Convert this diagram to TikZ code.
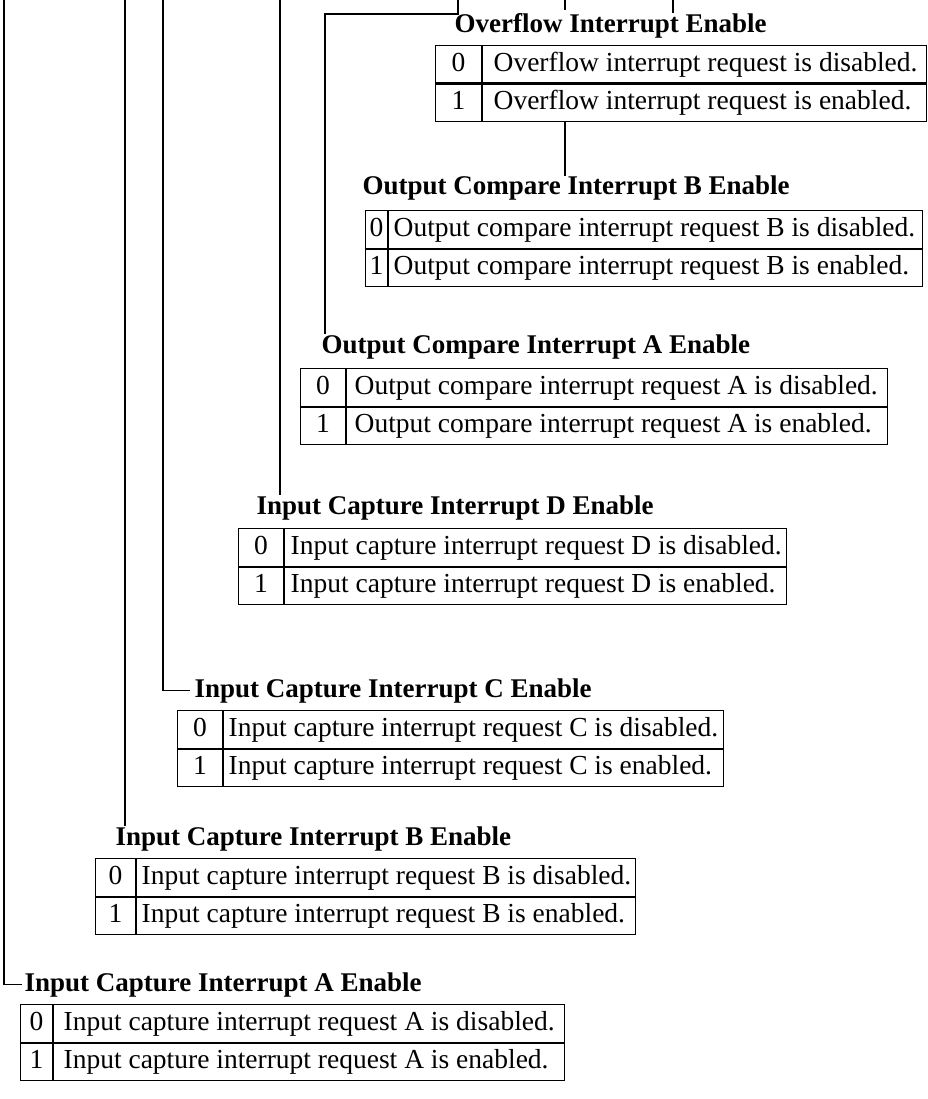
\documentclass[tikz,border=0pt]{standalone}
\usepackage{fontspec}
\setmainfont{Liberation Serif}
\usetikzlibrary{positioning}

\begin{document}
\begin{tikzpicture}[
  x=1pt, y=-1pt,
  font=\fontsize{27.5}{33}\selectfont,
  line width=1.1pt,
  node distance=0pt,
  heading/.style={anchor=base west, inner sep=0pt, font=\fontsize{27}{33}\selectfont\bfseries},
  bitcell/.style={draw, anchor=north west, inner ysep=0pt, inner xsep=0pt, minimum height=37.5pt, text height=20pt, text depth=6pt},
  txtcell/.style={bitcell, align=left, inner xsep=6pt,
    execute at begin node={\spaceskip=0pt\xspaceskip=0pt\hbox\bgroup}, execute at end node=\egroup}
]
\useasboundingbox (0,0) rectangle (927,1099);

% bit lines coming down from the register above
\coordinate (ica-top)  at (4,0);
\coordinate (icb-top)  at (125,0);
\coordinate (icc-top)  at (163,0);
\coordinate (icd-top)  at (280,0);
\coordinate (oca-top)  at (458,0);
\coordinate (oca-bend) at (325,14);
\coordinate (ocb-top)  at (565,0);
\coordinate (ocb-stub) at (565,10);
\coordinate (ovf-top)  at (673,0);

% Overflow
\node (ovf-title) [heading] at (454,33) {Overflow Interrupt Enable};
\node (ovf-n0) [bitcell, minimum width=46pt] at (435,45) {0};
\node (ovf-t0) [txtcell, inner xsep=11pt, text width=422pt, right=of ovf-n0] {Overflow interrupt request is disabled.};
\node (ovf-n1) [bitcell, minimum width=46pt, below=of ovf-n0] {1};
\node (ovf-t1) [txtcell, inner xsep=11pt, text width=422pt, right=of ovf-n1] {Overflow interrupt request is enabled.};

% Output compare B
\node (ocb-title) [heading] at (362,195) {Output Compare Interrupt B Enable};
\node (ocb-n0) [bitcell, minimum width=22pt] at (365,210) {0};
\node (ocb-t0) [txtcell, inner xsep=5pt, text width=524pt, right=of ocb-n0] {Output compare interrupt request B is disabled.};
\node (ocb-n1) [bitcell, minimum width=22pt, below=of ocb-n0] {1};
\node (ocb-t1) [txtcell, inner xsep=5pt, text width=524pt, right=of ocb-n1] {Output compare interrupt request B is enabled.};

% Output compare A
\node (oca-title) [heading] at (321,353) {Output Compare Interrupt A Enable};
\node (oca-n0) [bitcell, minimum width=45pt] at (300,368) {0};
\node (oca-t0) [txtcell, inner xsep=8pt, text width=525pt, right=of oca-n0] {Output compare interrupt request A is disabled.};
\node (oca-n1) [bitcell, minimum width=45pt, below=of oca-n0] {1};
\node (oca-t1) [txtcell, inner xsep=8pt, text width=525pt, right=of oca-n1] {Output compare interrupt request A is enabled.};

% Input capture D
\node (icd-title) [heading] at (256,514) {Input Capture Interrupt D Enable};
\node (icd-n0) [bitcell, minimum width=45pt] at (238,528) {0};
\node (icd-t0) [txtcell, text width=490pt, right=of icd-n0] {Input capture interrupt request D is disabled.};
\node (icd-n1) [bitcell, minimum width=45pt, below=of icd-n0] {1};
\node (icd-t1) [txtcell, text width=490pt, right=of icd-n1] {Input capture interrupt request D is enabled.};

% Input capture C
\node (icc-title) [heading] at (194,697) {Input Capture Interrupt C Enable};
\node (icc-n0) [bitcell, minimum width=45pt] at (177,710) {0};
\node (icc-t0) [txtcell, inner xsep=5pt, text width=490pt, right=of icc-n0] {Input capture interrupt request C is disabled.};
\node (icc-n1) [bitcell, minimum width=45pt, below=of icc-n0] {1};
\node (icc-t1) [txtcell, inner xsep=5pt, text width=490pt, right=of icc-n1] {Input capture interrupt request C is enabled.};

% Input capture B
\node (icb-title) [heading] at (115,845) {Input Capture Interrupt B Enable};
\node (icb-n0) [bitcell, minimum width=40pt] at (95,858) {0};
\node (icb-t0) [txtcell, inner xsep=5pt, text width=489pt, right=of icb-n0] {Input capture interrupt request B is disabled.};
\node (icb-n1) [bitcell, minimum width=40pt, below=of icb-n0] {1};
\node (icb-t1) [txtcell, inner xsep=5pt, text width=489pt, right=of icb-n1] {Input capture interrupt request B is enabled.};

% Input capture A
\node (ica-title) [heading] at (24,991) {Input Capture Interrupt A Enable};
\node (ica-n0) [bitcell, minimum width=32pt] at (20,1004) {0};
\node (ica-t0) [txtcell, inner xsep=10pt, text width=491pt, right=of ica-n0] {Input capture interrupt request A is disabled.};
\node (ica-n1) [bitcell, minimum width=32pt, below=of ica-n0] {1};
\node (ica-t1) [txtcell, inner xsep=10pt, text width=491pt, right=of ica-n1] {Input capture interrupt request A is enabled.};

% connectors
\draw (ica-top) |- ([xshift=-2pt]ica-title.west);
\draw (icb-top) -- (icb-top |- icb-title.north);
\draw (icc-top) |- ([xshift=-4pt]icc-title.west);
\draw (icd-top) -- (icd-top |- icd-title.north);
\draw (oca-top) |- (oca-bend) -- (oca-bend |- oca-title.north);
\draw (ocb-top) -- (ocb-stub);
\draw (ovf-t1.south -| ocb-top) -- (ocb-top |- ocb-title.north);
\draw (ovf-top) -- (ovf-top |- ovf-title.north);
\end{tikzpicture}
\end{document}
